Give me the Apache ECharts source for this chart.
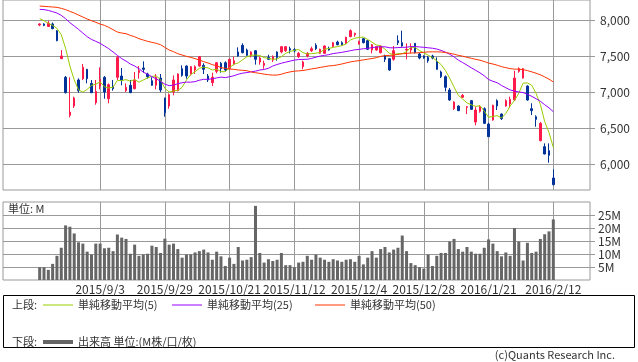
<!DOCTYPE html>
<html><head><meta charset="utf-8">
<script src="https://cdn.jsdelivr.net/npm/echarts@6/dist/echarts.min.js"></script>
<style>html,body{margin:0;padding:0;background:#fff}#c{width:638px;height:362px}</style>
</head><body><div id="c"></div>
<script>
const dates = [
'2015/8/14','2015/8/17','2015/8/18','2015/8/19','2015/8/20','2015/8/21','2015/8/24','2015/8/25','2015/8/26','2015/8/27','2015/8/28','2015/8/31',
'2015/9/1','2015/9/2','2015/9/3','2015/9/4','2015/9/7','2015/9/8','2015/9/9','2015/9/10','2015/9/11','2015/9/14','2015/9/15','2015/9/16','2015/9/17','2015/9/18','2015/9/24','2015/9/25','2015/9/28','2015/9/29','2015/9/30',
'2015/10/1','2015/10/2','2015/10/5','2015/10/6','2015/10/7','2015/10/8','2015/10/9','2015/10/13','2015/10/14','2015/10/15','2015/10/16','2015/10/19','2015/10/20','2015/10/21','2015/10/22','2015/10/23','2015/10/26','2015/10/27','2015/10/28','2015/10/29','2015/10/30',
'2015/11/2','2015/11/4','2015/11/5','2015/11/6','2015/11/9','2015/11/10','2015/11/11','2015/11/12','2015/11/13','2015/11/16','2015/11/17','2015/11/18','2015/11/19','2015/11/20','2015/11/24','2015/11/25','2015/11/26','2015/11/27','2015/11/30',
'2015/12/1','2015/12/2','2015/12/3','2015/12/4','2015/12/7','2015/12/8','2015/12/9','2015/12/10','2015/12/11','2015/12/14','2015/12/15','2015/12/16','2015/12/17','2015/12/18','2015/12/21','2015/12/22','2015/12/24','2015/12/25','2015/12/28','2015/12/29','2015/12/30',
'2016/1/4','2016/1/5','2016/1/6','2016/1/7','2016/1/8','2016/1/12','2016/1/13','2016/1/14','2016/1/15','2016/1/18','2016/1/19','2016/1/20','2016/1/21','2016/1/22','2016/1/25','2016/1/26','2016/1/27','2016/1/28','2016/1/29',
'2016/2/1','2016/2/2','2016/2/3','2016/2/4','2016/2/5','2016/2/8','2016/2/9','2016/2/10','2016/2/12'
];
const tickLabels = ['2015/9/3','2015/9/29','2015/10/21','2015/11/12','2015/12/4','2015/12/28','2016/1/21','2016/2/12'];
const priceTicks = [6000, 6500, 7000, 7500, 8000];
const volumeTicks = [5, 10, 15, 20, 25];

const opens = [7930,7945,7910,7945,7850,7463,7204,6676,6805,7167, 7185,7315,7120,6852,7083,7204,6907,7083,7204,7222,
7018,7093,7046,7268,7333,7250,7157,7093,7194,6917, 6805,7000,7018,7324,7361,7250,7306,7361,7370,7222,
7130,7287,7398,7407,7324,7389,7556,7648,7583,7509, 7574,7417,7370,7481,7444,7556,7556,7574,7602,7590,
7491,7352,7500,7574,7648,7537,7537,7606,7630,7694, 7685,7676,7769,7796,7667,7741,7713,7583,7583,7546,
7500,7463,7454,7713,7685,7583,7583,7676,7528,7500, 7481,7500,7426,7278,7213,7028,6768,6805,6926,6787,
6880,6583,6731,6768,6555,6611,6880,6694,6805,6833, 6889,7287,7194,7083,6768,6657,6324,6241,6185,5805];
const closes = [7945,7925,7955,7880,7713,7500,6991,6722,6917,7018, 7343,7185,6991,7009,7176,7000,7102,7046,7481,7167,
7065,6991,7167,7296,7315,7213,7093,7204,7028,6713, 6963,7167,7250,7231,7222,7352,7352,7491,7315,7167,
7204,7407,7324,7306,7454,7435,7500,7546,7509,7556, 7454,7472,7398,7454,7491,7481,7630,7630,7583,7570,
7537,7417,7537,7602,7602,7593,7639,7583,7685,7657, 7657,7759,7852,7815,7704,7685,7593,7657,7630,7639,
7454,7306,7574,7685,7639,7593,7630,7546,7472,7472, 7435,7472,7315,7213,7065,6889,6861,6741,6954,6796,
6759,6750,6796,6565,6380,6815,6805,6630,6880,6898, 7194,7324,7324,6889,6741,6620,6565,6139,6120,5713];
const lows = [7915,7915,7905,7870,7705,7460,6980,6648,6778,6991, 7167,7120,6985,6824,7037,6907,6843,7018,7167,7093,
7000,6985,7037,7185,7268,7185,7088,7037,7000,6657, 6768,6954,7009,7213,7185,7231,7250,7352,7250,7139,
7083,7259,7268,7287,7315,7370,7491,7537,7500,7481, 7380,7380,7324,7444,7417,7435,7537,7556,7537,7550,
7472,7315,7481,7556,7583,7528,7528,7574,7620,7648, 7648,7667,7759,7769,7657,7676,7583,7537,7574,7537,
7417,7296,7435,7653,7630,7454,7537,7537,7454,7463, 7407,7454,7310,7194,7009,6880,6750,6735,6917,6694,
6750,6537,6713,6555,6375,6602,6750,6611,6796,6778, 6880,7268,7185,6880,6680,6518,6315,6135,6018,5704];
const highs = [7955,7955,7985,7965,7860,7583,7222,7204,6935,7190, 7389,7320,7167,7167,7343,7222,7120,7167,7500,7333,
7120,7167,7278,7361,7426,7268,7204,7250,7250,6920, 6981,7231,7259,7370,7370,7361,7370,7500,7398,7250,
7268,7417,7417,7426,7463,7491,7620,7676,7602,7565, 7583,7491,7435,7518,7509,7565,7639,7639,7630,7610,
7556,7435,7556,7630,7676,7602,7648,7630,7694,7713, 7704,7769,7870,7824,7713,7750,7722,7667,7639,7648,
7518,7472,7639,7787,7852,7676,7676,7680,7546,7509, 7500,7518,7481,7296,7231,7055,6870,6815,6972,6805,
6889,6796,6815,6787,6574,6824,6898,6704,6898,6935, 7296,7343,7333,7093,6843,6676,6583,6287,6287,5926];
const volumes = [4.9,4.9,3.9,6.2,9.3,12.4,21.0,20.5,17.9,14.5, 14.0,10.9,9.8,14.0,14.0,12.2,12.4,11.1,17.5,16.3,
15.8,10.1,13.6,9.3,9.8,10.1,13.2,12.7,10.4,15.9, 13.6,14.0,11.9,8.6,9.8,9.8,10.6,11.1,11.7,10.6,
7.8,10.9,9.1,5.4,8.6,6.2,12.7,7.5,7.8,8.8, 28.5,10.4,6.7,8.0,7.3,7.8,10.4,5.7,5.7,4.9,
6.7,7.0,9.3,7.8,9.8,8.6,7.8,7.0,8.0,7.5, 7.0,7.8,8.0,7.0,9.3,6.0,8.6,11.1,8.6,11.9,
12.7,10.6,11.7,12.4,17.1,11.1,6.5,5.7,4.9,4.4, 9.8,5.4,9.3,10.4,10.4,14.8,15.8,11.9,10.9,12.7,
10.9,10.1,10.1,12.4,15.6,14.0,11.1,9.1,10.6,9.3, 20.0,14.8,7.5,14.3,10.4,10.9,15.8,17.6,18.7,23.3];
const ma5 = [8020,7990,7955,7925,7884,7795,7608,7361,7169,7030, 6998,7037,7091,7109,7141,7072,7056,7067,7161,7159,
7172,7150,7174,7137,7167,7196,7217,7224,7171,7050, 7000,7015,7024,7065,7167,7244,7281,7330,7346,7335,
7306,7317,7283,7282,7339,7385,7404,7448,7489,7509, 7513,7507,7478,7467,7454,7459,7491,7537,7563,7579,
7590,7547,7529,7533,7539,7550,7595,7604,7620,7631, 7644,7668,7722,7748,7757,7763,7730,7691,7654,7641,
7595,7537,7521,7532,7532,7559,7624,7619,7576,7543, 7511,7479,7433,7381,7300,7191,7069,6954,6902,6848,
6822,6800,6811,6733,6650,6661,6672,6639,6702,6806, 6881,6985,7124,7126,7094,6980,6828,6591,6437,6231];
const ma25 = [8148,8144,8134,8116,8097,8065,8019,7963,7917,7870, 7819,7768,7731,7704,7676,7639,7602,7556,7509,7463,
7430,7389,7361,7324,7276,7247,7213,7183,7149,7109, 7088,7095,7116,7129,7137,7137,7144,7164,7176,7176,
7184,7196,7207,7200,7212,7226,7247,7262,7270,7280, 7290,7305,7313,7330,7361,7382,7400,7415,7429,7443,
7451,7453,7455,7467,7484,7500,7509,7519,7534,7542, 7551,7562,7574,7586,7592,7601,7606,7617,7624,7629,
7628,7615,7613,7617,7620,7622,7631,7631,7626,7621, 7614,7608,7597,7578,7554,7524,7488,7443,7409,7373,
7336,7302,7267,7225,7174,7149,7129,7091,7059,7029, 7013,7001,6992,6969,6940,6907,6871,6824,6780,6726];
const ma50 = [8194,8190,8185,8181,8176,8162,8144,8120,8097,8069, 8042,8014,7991,7968,7944,7926,7898,7866,7833,7819,
7810,7787,7768,7741,7722,7704,7690,7676,7657,7620, 7583,7560,7532,7514,7495,7481,7463,7444,7421,7403,
7380,7366,7338,7329,7319,7315,7306,7301,7296,7278, 7268,7259,7248,7240,7235,7235,7247,7266,7279,7290,
7294,7299,7309,7321,7330,7342,7352,7363,7367,7377, 7389,7404,7418,7428,7436,7446,7456,7465,7477,7495,
7505,7508,7514,7523,7532,7536,7542,7543,7546,7552, 7557,7558,7558,7556,7548,7538,7525,7509,7498,7482,
7468,7454,7442,7424,7402,7389,7372,7352,7338,7325, 7318,7316,7312,7297,7280,7261,7239,7210,7179,7140];

const PAD = 8;
const cats = [];
for (let k = 0; k < PAD; k++) cats.push('L' + k);
dates.forEach(d => cats.push(d));
for (let k = 0; k < PAD; k++) cats.push('R' + k);

const candleData = dates.map((d, i) => [PAD + i, opens[i], closes[i], lows[i], highs[i]]);
const pairs = arr => arr.map((v, i) => [PAD + i, v]);

const FONT = '"Noto Sans CJK JP", sans-serif';
const TXT = '#333';
const GRID = '#999';
const showTick = (i, v) => tickLabels.indexOf(v) >= 0;

const lgCommon = {
  padding: 0, itemWidth: 30, itemHeight: 1, selectedMode: false, itemGap: 0, icon: 'rect',
  textStyle: { fontSize: 11, color: TXT, fontFamily: FONT, lineHeight: 12 }
};

const chart = echarts.init(document.getElementById('c'), null, { renderer: 'canvas' });
chart.setOption({
  animation: false,
  backgroundColor: '#fff',
  grid: [
    { left: 3, right: 48, top: 0, height: 190, show: true, borderColor: GRID, borderWidth: 1, containLabel: false },
    { left: 3, right: 48, top: 202, height: 78, show: true, borderColor: GRID, borderWidth: 1, containLabel: false }
  ],
  xAxis: [
    { gridIndex: 0, type: 'category', data: cats, boundaryGap: true,
      axisLine: { show: false }, axisLabel: { show: false },
      axisTick: { show: true, inside: true, length: 190, alignWithLabel: true, interval: showTick, lineStyle: { color: GRID } },
      splitLine: { show: false } },
    { gridIndex: 1, type: 'category', data: cats, boundaryGap: true,
      axisLine: { show: false },
      axisLabel: { show: true, interval: showTick, margin: 3, fontSize: 12, color: TXT, fontFamily: FONT },
      axisTick: { show: true, inside: true, length: 78, alignWithLabel: true, interval: showTick, lineStyle: { color: GRID } },
      splitLine: { show: false } }
  ],
  yAxis: [
    { gridIndex: 0, type: 'value', position: 'right', min: 5639, max: 8278, splitNumber: 5,
      axisLine: { show: false },
      axisTick: { show: true, length: 5, customValues: priceTicks, lineStyle: { color: GRID } },
      axisLabel: { margin: 10, customValues: priceTicks, fontSize: 12, color: TXT, fontFamily: FONT,
        formatter: v => String(v).replace(/\B(?=(\d{3})+(?!\d))/g, ',') },
      splitLine: { show: true, lineStyle: { color: GRID } } },
    { gridIndex: 1, type: 'value', position: 'right', min: 0, max: 30, interval: 5,
      axisLine: { show: false },
      axisTick: { show: true, length: 5, customValues: volumeTicks, lineStyle: { color: GRID } },
      axisLabel: { margin: 8, customValues: volumeTicks, fontSize: 12, color: TXT, fontFamily: FONT,
        formatter: v => v + 'M' },
      splitLine: { show: true, lineStyle: { color: GRID } } }
  ],
  legend: [
    Object.assign({}, lgCommon, { data: ['単純移動平均(5)'], left: 43, top: 299 }),
    Object.assign({}, lgCommon, { data: ['単純移動平均(25)'], left: 172, top: 299 }),
    Object.assign({}, lgCommon, { data: ['単純移動平均(50)'], left: 315, top: 299 }),
    Object.assign({}, lgCommon, { data: ['出来高 単位:(M株/口/枚)'], left: 43, top: 336, itemHeight: 4 })
  ],
  series: [
    { type: 'candlestick', name: '株価', xAxisIndex: 0, yAxisIndex: 0, barWidth: 2,
      data: candleData, encode: { x: 0, y: [1, 2, 3, 4] },
      itemStyle: { color: '#ff1a4a', color0: '#003399', borderColor: '#ff1a4a', borderColor0: '#003399', borderWidth: 1 } },
    { type: 'line', name: '単純移動平均(5)', xAxisIndex: 0, yAxisIndex: 0, data: pairs(ma5),
      symbol: 'none', color: '#99cc00', lineStyle: { width: 1, color: '#99cc00' } },
    { type: 'line', name: '単純移動平均(25)', xAxisIndex: 0, yAxisIndex: 0, data: pairs(ma25),
      symbol: 'none', color: '#9900ff', lineStyle: { width: 1, color: '#9900ff' } },
    { type: 'line', name: '単純移動平均(50)', xAxisIndex: 0, yAxisIndex: 0, data: pairs(ma50),
      symbol: 'none', color: '#ff3300', lineStyle: { width: 1, color: '#ff3300' } },
    { type: 'bar', name: '出来高 単位:(M株/口/枚)', xAxisIndex: 1, yAxisIndex: 1, data: pairs(volumes),
      barWidth: 3, itemStyle: { color: '#666666' } }
  ],
  graphic: [
    { type: 'text', x: 8, y: 209, silent: true,
      style: { text: '単位: M', fill: TXT, font: '11px ' + FONT, verticalAlign: 'middle' } },
    { type: 'rect', silent: true, shape: { x: 3.5, y: 295.5, width: 631, height: 52 },
      style: { fill: 'none', stroke: '#000', lineWidth: 1 } },
    { type: 'text', x: 12, y: 305, silent: true,
      style: { text: '上段:', fill: TXT, font: '11px ' + FONT, verticalAlign: 'middle' } },
    { type: 'text', x: 12, y: 342, silent: true,
      style: { text: '下段:', fill: TXT, font: '11px ' + FONT, verticalAlign: 'middle' } },
    { type: 'text', x: 615, y: 355, silent: true,
      style: { text: '(c)Quants Research Inc.', fill: TXT, font: '11px ' + FONT, align: 'right', verticalAlign: 'middle' } }
  ]
});
</script>
</body></html>
